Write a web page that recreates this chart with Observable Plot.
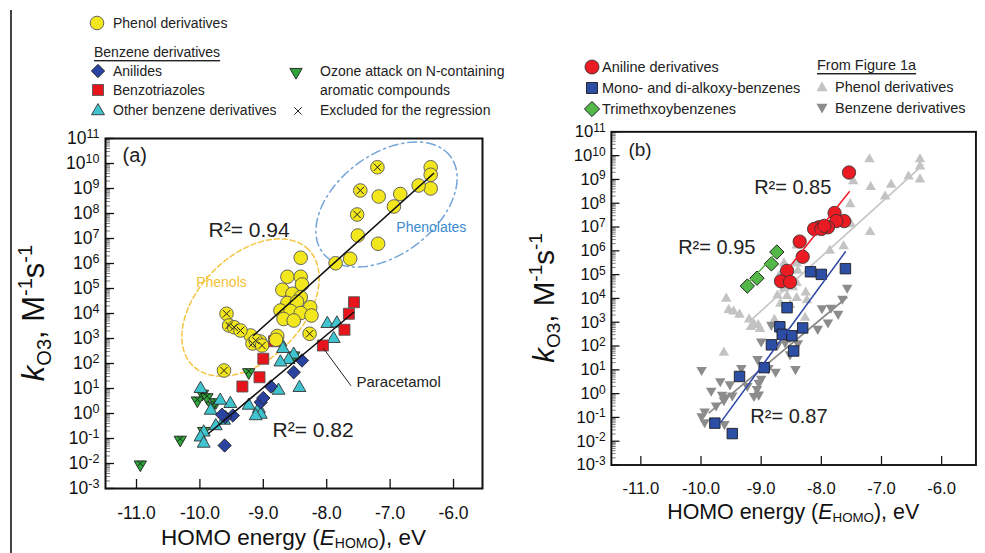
<!DOCTYPE html>
<html>
<head>
<meta charset="utf-8">
<script src="https://cdn.jsdelivr.net/npm/d3@7"></script>
<script src="https://cdn.jsdelivr.net/npm/@observablehq/plot@0.6"></script>
<style>
  html, body { margin:0; padding:0; background:#fff; }
  body { width:985px; height:553px; overflow:hidden; position:relative; font-family:"Liberation Sans", Arial, Helvetica, sans-serif; }
  #pa, #pb, #legend { position:absolute; top:0; }
  #pa { left:0; } #pb { left:490px; } #legend { left:0; }
  #edge { position:absolute; left:10px; top:10px; width:1.5px; height:543px; background:#444; }
</style>
</head>
<body>
<div id="edge"></div>
<div id="pa"></div>
<div id="pb"></div>
<svg id="legend" width="985" height="130"></svg>
<script>
const FONT = '"Liberation Sans", Arial, Helvetica, sans-serif';

// ---------- tick labels ----------
const xTickValues = [-11, -10, -9, -8, -7, -6];
const yTickExponents = [-3, -2, -1, 0, 1, 2, 3, 4, 5, 6, 7, 8, 9, 10, 11];

// ---------- panel (a) data: [E_HOMO (eV), log10 kO3 (M^-1 s^-1)] ----------
const phenolsA = [
  [-6.36, 9.85], [-6.36, 9.55], [-6.36, 9.0], [-6.55, 9.12], [-6.84, 8.78], [-6.94, 8.28],
  [-7.18, 8.68], [-7.51, 7.12], [-7.19, 6.79], [-7.63, 6.19], [-7.86, 6.01], [-8.41, 6.23],
  [-8.62, 5.47], [-8.41, 5.47], [-8.39, 5.16], [-8.70, 4.95], [-8.54, 4.79], [-8.41, 4.65],
  [-8.62, 4.42], [-8.47, 4.47], [-8.26, 4.25], [-8.73, 4.12], [-8.57, 4.10], [-8.41, 4.02],
  [-8.24, 3.92], [-8.68, 3.78], [-8.52, 3.72], [-9.20, 3.12], [-9.05, 2.88], [-8.78, 3.10],
  [-8.80, 2.95]
];
const phenolsExcludedA = [
  [-7.20, 9.85], [-7.47, 8.92], [-7.52, 7.96], [-9.58, 3.99], [-9.54, 3.52], [-9.46, 3.45],
  [-9.36, 3.32], [-9.17, 2.80], [-9.12, 2.92], [-9.02, 2.72], [-8.27, 3.19], [-9.62, 1.72]
];
const anilidesA = [
  [-8.39, 2.12], [-8.52, 1.65], [-8.88, 1.08], [-9.04, 0.45], [-9.00, 0.62],
  [-9.48, -0.08], [-9.60, -0.15], [-9.65, -0.05], [-9.61, -1.28]
];
const benzotriazolesA = [
  [-7.57, 4.45], [-7.65, 3.99], [-7.72, 3.35], [-8.06, 2.72], [-8.83, 2.89],
  [-9.00, 2.19], [-9.06, 1.45], [-9.33, 1.08]
];
const otherBenzenesA = [
  [-7.99, 3.59], [-7.84, 3.61], [-7.89, 2.99], [-8.73, 2.85], [-8.69, 2.59], [-8.52, 2.36],
  [-8.60, 2.15], [-8.73, 2.05], [-8.76, 0.92], [-8.43, 1.03], [-9.23, 0.32], [-9.07, 0.19],
  [-9.04, -0.04], [-9.12, -0.10], [-9.52, 0.39], [-9.68, 0.52], [-9.99, 0.99], [-9.83, 0.12],
  [-9.94, -0.75], [-9.99, -0.95], [-9.94, -1.20], [-9.62, -0.28], [-9.75, -0.50]
];
const ozoneAttackA = [
  [-9.23, 1.65], [-8.52, 2.32], [-9.96, 0.79], [-10.04, 0.52], [-9.89, 0.65], [-9.75, 0.45],
  [-9.81, 0.32], [-10.31, -1.05], [-10.94, -2.04], [-9.94, -0.70]
];
const fitPhenolsA = [[-9.155, 3.12], [-6.315, 9.60]];
const fitBenzenesA = [[-9.864, -0.80], [-7.577, 4.04]];
const paracetamolPointer = [[-8.05, 2.60], [-7.62, 1.12]];

// ---------- panel (b) data ----------
const anilinesB = [
  [-7.54, 9.29], [-7.78, 7.59], [-7.62, 7.25], [-7.75, 7.25], [-7.89, 6.99], [-8.04, 6.99],
  [-8.12, 6.92], [-8.00, 6.92], [-7.95, 7.05], [-8.36, 6.39], [-8.31, 5.75], [-8.57, 5.16],
  [-8.67, 4.72], [-8.52, 4.69]
];
const alkoxyB = [
  [-7.60, 5.25], [-8.00, 5.01], [-8.18, 5.12], [-8.57, 3.61], [-8.69, 2.81], [-8.31, 2.76],
  [-8.65, 2.49], [-8.49, 2.43], [-8.83, 2.05], [-8.46, 1.79], [-8.95, 1.09], [-9.36, 0.72],
  [-9.77, -1.24], [-9.48, -1.68]
];
const trimethoxyB = [[-8.74, 5.95], [-8.83, 5.45], [-9.07, 4.85], [-9.23, 4.52]];
const fitAnilinesB = [[-8.53, 5.32], [-7.535, 8.48]];
const fitAlkoxyB = [[-9.67, -1.20], [-7.60, 5.96]];
const fitTrimethoxyB = [[-9.228, 4.60], [-8.72, 6.00]];

// ---------- layout ----------
const H = 553, MT = 138, MB = 65;
const cfgA = {width: 490, ml: 105, mr: 8, domain: [-11.489, -5.543], yTitleX: 44};
const cfgB = {width: 520, ml: 127, mr: 10, domain: [-11.49, -5.43], yTitleX: 67};
const Y0 = 1e-3, Y1 = 1e11;
const majorY = yTickExponents.map(e => 10 ** e);
const minorY = [];
for (const e of yTickExponents.slice(0, -1)) for (let m = 2; m <= 9; m++) minorY.push(m * 10 ** e);

const X = d => d[0], Y = d => 10 ** d[1];
const sqrt3 = Math.sqrt(3);
const triDown = {
  draw(ctx, size) {
    const y = -Math.sqrt(size / (sqrt3 * 3));
    ctx.moveTo(0, -y * 2);
    ctx.lineTo(-sqrt3 * y, y);
    ctx.lineTo(sqrt3 * y, y);
    ctx.closePath();
  }
};

function scalesOf(cfg) {
  return {pxX: (cfg.width - cfg.ml - cfg.mr) / (cfg.domain[1] - cfg.domain[0]), pxDec: (H - MT - MB) / 14};
}
function ellipse(c, a, b, deg, s) {
  const ang = deg * Math.PI / 180;
  return d3.range(0, 361, 4).map(t => {
    const th = t * Math.PI / 180, u = a * Math.cos(th), v = b * Math.sin(th);
    return [c[0] + (u * Math.cos(ang) - v * Math.sin(ang)) / s.pxX,
            c[1] + (u * Math.sin(ang) + v * Math.cos(ang)) / s.pxDec];
  });
}

function panel(cfg, marksFn, el) {
  const s = scalesOf(cfg), x0 = cfg.domain[0];
  const svg = Plot.plot({
    width: cfg.width, height: H,
    marginLeft: cfg.ml, marginRight: cfg.mr, marginTop: MT, marginBottom: MB,
    style: {fontFamily: FONT, background: "transparent", color: "#111", overflow: "visible"},
    x: {domain: cfg.domain},
    y: {type: "log", domain: [Y0, Y1]},
    marks: [
      Plot.ruleY(minorY, {y: d => d, x1: x0, x2: x0 + 5 / s.pxX, stroke: "#555", strokeWidth: 0.8}),
      Plot.ruleY(majorY, {y: d => d, x1: x0, x2: x0 + 9 / s.pxX, stroke: "#111", strokeWidth: 1.3}),
      Plot.ruleX(xTickValues, {x: d => d, y1: Y0, y2: 10 ** (-3 + 9 / s.pxDec), stroke: "#111", strokeWidth: 1.3}),
      Plot.axisY({ticks: majorY, tickSize: 0, tickPadding: 6, fontSize: 17.5,
                  tickFormat: d => "10^" + Math.round(Math.log10(d)), label: null}),
      Plot.axisX({ticks: xTickValues, tickSize: 0, tickPadding: 18, fontSize: 17.5,
                  tickFormat: d => d.toFixed(1), label: null}),
      ...marksFn(s),
      Plot.frame({stroke: "#111", strokeWidth: 2})
    ]
  });
  const root = d3.select(svg);
  root.selectAll('g[aria-label="y-axis tick label"] text').each(function () {
    const str = this.textContent, i = str.indexOf("^");
    if (i < 0) return;
    const t = d3.select(this);
    t.text(null);
    t.append("tspan").text(str.slice(0, i));
    t.append("tspan").attr("dy", "-0.45em").attr("font-size", "0.72em").text(str.slice(i + 1));
  });
  // y title
  const yt = root.append("text")
    .attr("transform", `translate(${cfg.yTitleX},${(MT + H - MB) / 2}) rotate(-90)`)
    .attr("text-anchor", "middle").attr("font-size", 31).attr("font-family", FONT).attr("fill", "#111");
  yt.append("tspan").attr("font-style", "italic").text("k");
  yt.append("tspan").attr("font-size", 20).attr("dy", 7).text("O3");
  yt.append("tspan").attr("dy", -7).text(", M");
  yt.append("tspan").attr("font-size", 20).attr("dy", -12).text("-1");
  yt.append("tspan").attr("dy", 12).text("s");
  yt.append("tspan").attr("font-size", 20).attr("dy", -12).text("-1");
  // x title
  const xt = root.append("text")
    .attr("x", (cfg.ml + cfg.width - cfg.mr) / 2).attr("y", 545)
    .attr("text-anchor", "middle").attr("font-size", 22.5).attr("font-family", FONT).attr("fill", "#111");
  xt.append("tspan").text("HOMO energy (");
  xt.append("tspan").attr("font-style", "italic").text("E");
  xt.append("tspan").attr("font-size", 14).attr("dy", 3).text("HOMO");
  xt.append("tspan").attr("dy", -3).text("), eV");
  document.getElementById(el).append(svg);
}

const yellow = "#f2e61c";

panel(cfgA, s => [
  Plot.line(ellipse([-9.202, 4.24], 82, 52, 45, s), {x: X, y: Y, stroke: "#f6c443", strokeWidth: 1.5, strokeDasharray: "5,3"}),
  Plot.line(ellipse([-7.057, 8.36], 80, 50, 37, s), {x: X, y: Y, stroke: "#74a5d8", strokeWidth: 1.5, strokeDasharray: "9,4,2,4"}),
  Plot.text(["Phenols"], {x: -9.66, y: 10 ** 5.24, text: d => d, fill: "#f2c233", fontSize: 14}),
  Plot.text(["Phenolates"], {x: -6.35, y: 10 ** 7.44, text: d => d, fill: "#3a8bd0", fontSize: 14}),
  Plot.dot(ozoneAttackA, {x: X, y: Y, symbol: triDown, r: 4.6, fill: "#2ea33a", stroke: "#222", strokeWidth: 0.9}),
  Plot.dot(ozoneAttackA, {x: X, y: Y, symbol: "times", r: 2.6, fill: "none", stroke: "#111", strokeWidth: 0.8, dy: -1}),
  Plot.dot(otherBenzenesA, {x: X, y: Y, symbol: "triangle", r: 4.8, fill: "#3fc4cf", stroke: "#333", strokeWidth: 0.9}),
  Plot.dot(anilidesA, {x: X, y: Y, symbol: "diamond2", r: 6.0, fill: "#2b43a0", stroke: "#222", strokeWidth: 0.9}),
  Plot.dot(benzotriazolesA, {x: X, y: Y, symbol: "square", r: 6.2, fill: "#e8141b", stroke: "#555", strokeWidth: 0.9}),
  Plot.dot(phenolsA, {x: X, y: Y, r: 6.8, fill: yellow, stroke: "#555", strokeWidth: 0.9}),
  Plot.dot(phenolsExcludedA, {x: X, y: Y, r: 6.8, fill: yellow, stroke: "#555", strokeWidth: 0.9}),
  Plot.dot(phenolsExcludedA, {x: X, y: Y, symbol: "times", r: 3.4, fill: "none", stroke: "#222", strokeWidth: 1}),
  Plot.line(fitPhenolsA, {x: X, y: Y, stroke: "#111", strokeWidth: 1.6}),
  Plot.line(fitBenzenesA, {x: X, y: Y, stroke: "#111", strokeWidth: 1.6}),
  Plot.line(paracetamolPointer, {x: X, y: Y, stroke: "#222", strokeWidth: 1}),
  Plot.text(["Paracetamol"], {x: -7.53, y: 10 ** 1.24, text: d => d, textAnchor: "start", fontSize: 15, fill: "#222"}),
  Plot.text(["R²= 0.94"], {x: -9.864, y: 10 ** 7.32, text: d => d, textAnchor: "start", fontSize: 21, fill: "#222"}),
  Plot.text(["R²= 0.82"], {x: -8.855, y: 10 ** -0.68, text: d => d, textAnchor: "start", fontSize: 21, fill: "#222"}),
  Plot.text(["(a)"], {x: -11.22, y: 10 ** 10.32, text: d => d, textAnchor: "start", fontSize: 20, fill: "#222"})
], "pa");

panel(cfgB, s => [
  Plot.dot([...phenolsA, ...phenolsExcludedA], {x: X, y: Y, symbol: "triangle", r: 4.1, fill: "#c3c3c3"}),
  Plot.dot([...anilidesA, ...benzotriazolesA, ...otherBenzenesA], {x: X, y: Y, symbol: triDown, r: 4.1, fill: "#8c8c8c"}),
  Plot.line(fitPhenolsA, {x: X, y: Y, stroke: "#c6c6c6", strokeWidth: 1.8}),
  Plot.line(fitBenzenesA, {x: X, y: Y, stroke: "#8a8a8a", strokeWidth: 1.8}),
  Plot.dot(alkoxyB, {x: X, y: Y, symbol: "square", r: 6.2, fill: "#2d4ea5", stroke: "#1a1a1a", strokeWidth: 0.9}),
  Plot.dot(trimethoxyB, {x: X, y: Y, symbol: "diamond2", r: 6.8, fill: "#52b848", stroke: "#1a1a1a", strokeWidth: 1}),
  Plot.dot(anilinesB, {x: X, y: Y, r: 7, fill: "#ea1b22", stroke: "#333", strokeWidth: 0.9}),
  Plot.line(fitAlkoxyB, {x: X, y: Y, stroke: "#3048a8", strokeWidth: 1.6}),
  Plot.line(fitTrimethoxyB, {x: X, y: Y, stroke: "#58b848", strokeWidth: 1.6}),
  Plot.line(fitAnilinesB, {x: X, y: Y, stroke: "#ee1c24", strokeWidth: 1.6}),
  Plot.text(["R²= 0.85"], {x: -9.117, y: 10 ** 8.64, text: d => d, textAnchor: "start", fontSize: 21, fill: "#222"}),
  Plot.text(["R²= 0.95"], {x: -10.38, y: 10 ** 6.12, text: d => d, textAnchor: "start", fontSize: 21, fill: "#222"}),
  Plot.text(["R²= 0.87"], {x: -9.18, y: 10 ** -0.96, text: d => d, textAnchor: "start", fontSize: 21, fill: "#222"}),
  Plot.text(["(b)"], {x: -11.206, y: 10 ** 10.24, text: d => d, textAnchor: "start", fontSize: 20, fill: "#222"})
], "pb");

// ---------- legends ----------
const leg = d3.select("#legend");
function legSym(x, y, type, r, fill, stroke, sw) {
  leg.append("path").attr("transform", `translate(${x},${y})`)
    .attr("d", d3.symbol(type, Math.PI * r * r)())
    .attr("fill", fill).attr("stroke", stroke || "none").attr("stroke-width", sw || 0.9);
}
function legText(x, y, s, size, underline) {
  leg.append("text").attr("x", x).attr("y", y).attr("dominant-baseline", "central")
    .attr("font-family", FONT).attr("font-size", size).attr("fill", "#222")
    .attr("text-decoration", underline ? "underline" : null).text(s);
}
legSym(97, 23, d3.symbolCircle, 6.8, yellow, "#555");
legText(113, 23, "Phenol derivatives", 14);
legText(94, 52, "Benzene derivatives", 14, true);
legSym(98, 71, d3.symbolDiamond2, 6.0, "#2b43a0", "#222");
legText(113, 71, "Anilides", 14);
legSym(98, 90, d3.symbolSquare, 6.2, "#e8141b", "#555");
legText(113, 90, "Benzotriazoles", 14);
legSym(98, 111, d3.symbolTriangle, 4.8, "#3fc4cf", "#333");
legText(113, 110, "Other benzene derivatives", 14);
legSym(296, 72, triDown, 4.6, "#2ea33a", "#222");
legText(320, 71, "Ozone attack on N-containing", 14);
legText(320, 90, "aromatic compounds", 14);
legSym(298, 111, d3.symbolTimes, 3.4, "none", "#222", 1);
legText(320, 110, "Excluded for the regression", 14);

legSym(592, 67, d3.symbolCircle, 7, "#ea1b22", "#333");
legText(602, 67, "Aniline derivatives", 14.5);
legSym(592, 88, d3.symbolSquare, 6.2, "#2d4ea5", "#1a1a1a");
legText(602, 88, "Mono- and di-alkoxy-benzenes", 14.5);
legSym(592, 109, d3.symbolDiamond2, 6.8, "#52b848", "#1a1a1a", 1);
legText(602, 109, "Trimethxoybenzenes", 14.5);
legText(817, 65, "From Figure 1a", 14.5, true);
legSym(822, 88, d3.symbolTriangle, 4.1, "#c3c3c3");
legText(835, 87, "Phenol derivatives", 14.5);
legSym(822, 107, triDown, 4.1, "#8c8c8c");
legText(835, 108, "Benzene derivatives", 14.5);
</script>
</body>
</html>
